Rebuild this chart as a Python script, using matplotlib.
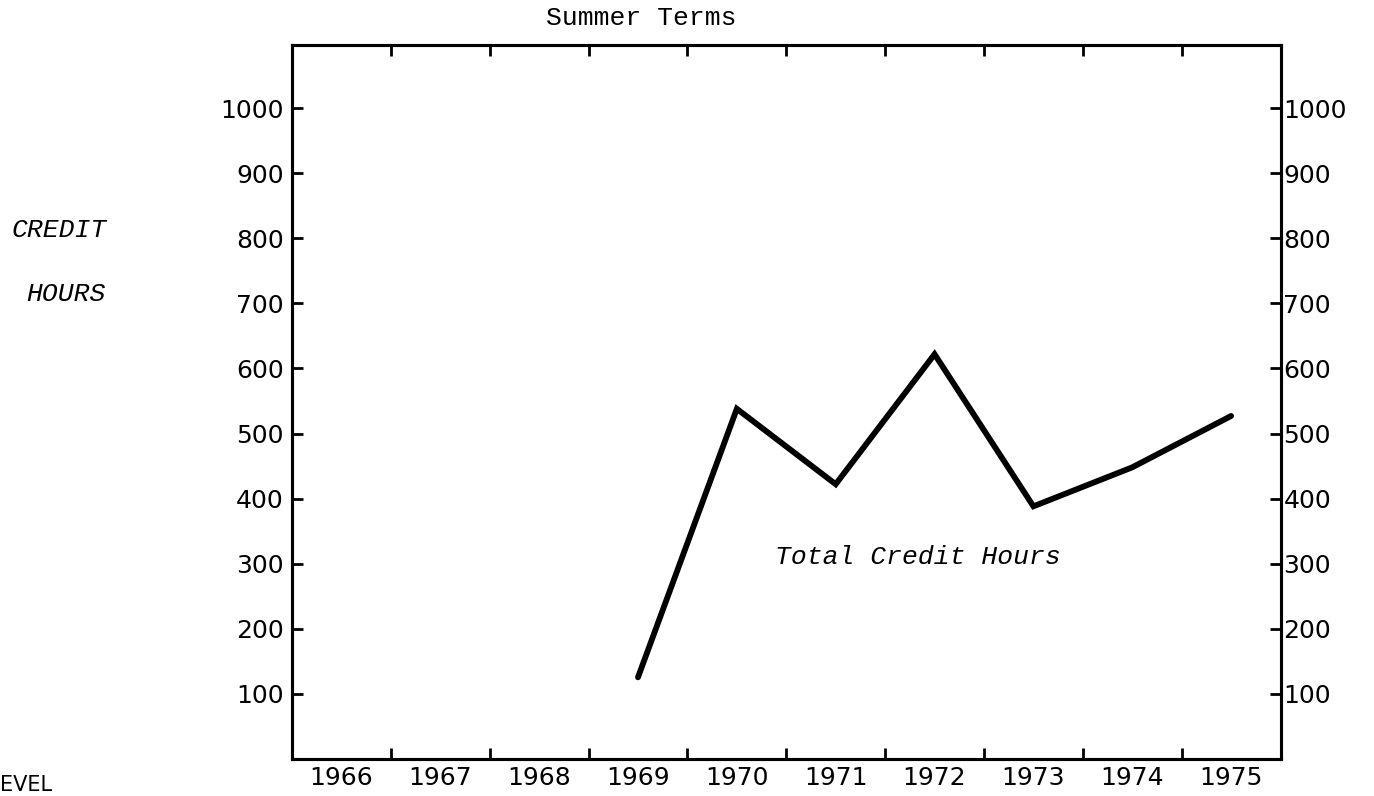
import matplotlib.pyplot as plt
import numpy as np

# data
years = [1966, 1967, 1968, 1969, 1970, 1971, 1972, 1973, 1974, 1975]
plot_years = [1969, 1970, 1971, 1972, 1973, 1974, 1975]
credit_hours = [125, 538, 422, 622, 388, 448, 527]
yticks = [100, 200, 300, 400, 500, 600, 700, 800, 900, 1000]

mono = 'Liberation Mono'
sans = 'DejaVu Sans'

fig = plt.figure(figsize=(13.74, 7.96), dpi=100)
ax = fig.add_axes([0.2125, 0.047, 0.7195, 0.896])

ax.plot(plot_years, credit_hours, color='black', lw=4.2,
        solid_joinstyle='miter', solid_capstyle='round')

ax.set_xlim(years[0] - 0.5, years[-1] + 0.5)
ax.set_ylim(0, 1097)

# year boundaries carry the tick marks, labels sit between them
ax.set_xticks(np.arange(years[0] + 0.5, years[-1] + 0.5, 1.0))
ax.set_xticklabels([])
ax.set_xticks(years, minor=True)
ax.set_xticklabels([str(y) for y in years], minor=True,
                   fontsize=18, family=sans)
ax.tick_params(axis='x', which='major', direction='in', length=8,
               width=2, top=True, bottom=True)
ax.tick_params(axis='x', which='minor', length=0, pad=5)

ax.set_yticks(yticks)
ax.set_yticklabels([str(v) for v in yticks], fontsize=18, family=sans)
ax.tick_params(axis='y', direction='in', length=8, width=2, pad=6)

ax2 = ax.twinx()
ax2.set_ylim(ax.get_ylim())
ax2.set_yticks(yticks)
ax2.set_yticklabels([str(v) for v in yticks], fontsize=18, family=sans)
ax2.tick_params(axis='y', direction='in', length=8, width=2, pad=2)

for a in (ax, ax2):
    for s in a.spines.values():
        s.set_linewidth(2.2)

fig.text(0.467, 0.978, 'Summer Terms', ha='center', va='center',
         fontsize=19, family=mono)
fig.text(0.043, 0.711, 'CREDIT', ha='center', va='center',
         fontsize=19, family=mono, style='italic')
fig.text(0.048, 0.631, 'HOURS', ha='center', va='center',
         fontsize=19, family=mono, style='italic')
ax.text(1971.83, 310, 'Total Credit Hours', ha='center', va='center',
        fontsize=19, family=mono, style='italic')
fig.text(0.0, 0.001, 'EVEL', ha='left', va='bottom',
         fontsize=15, family=sans)

fig.savefig('out.png', dpi=100)
